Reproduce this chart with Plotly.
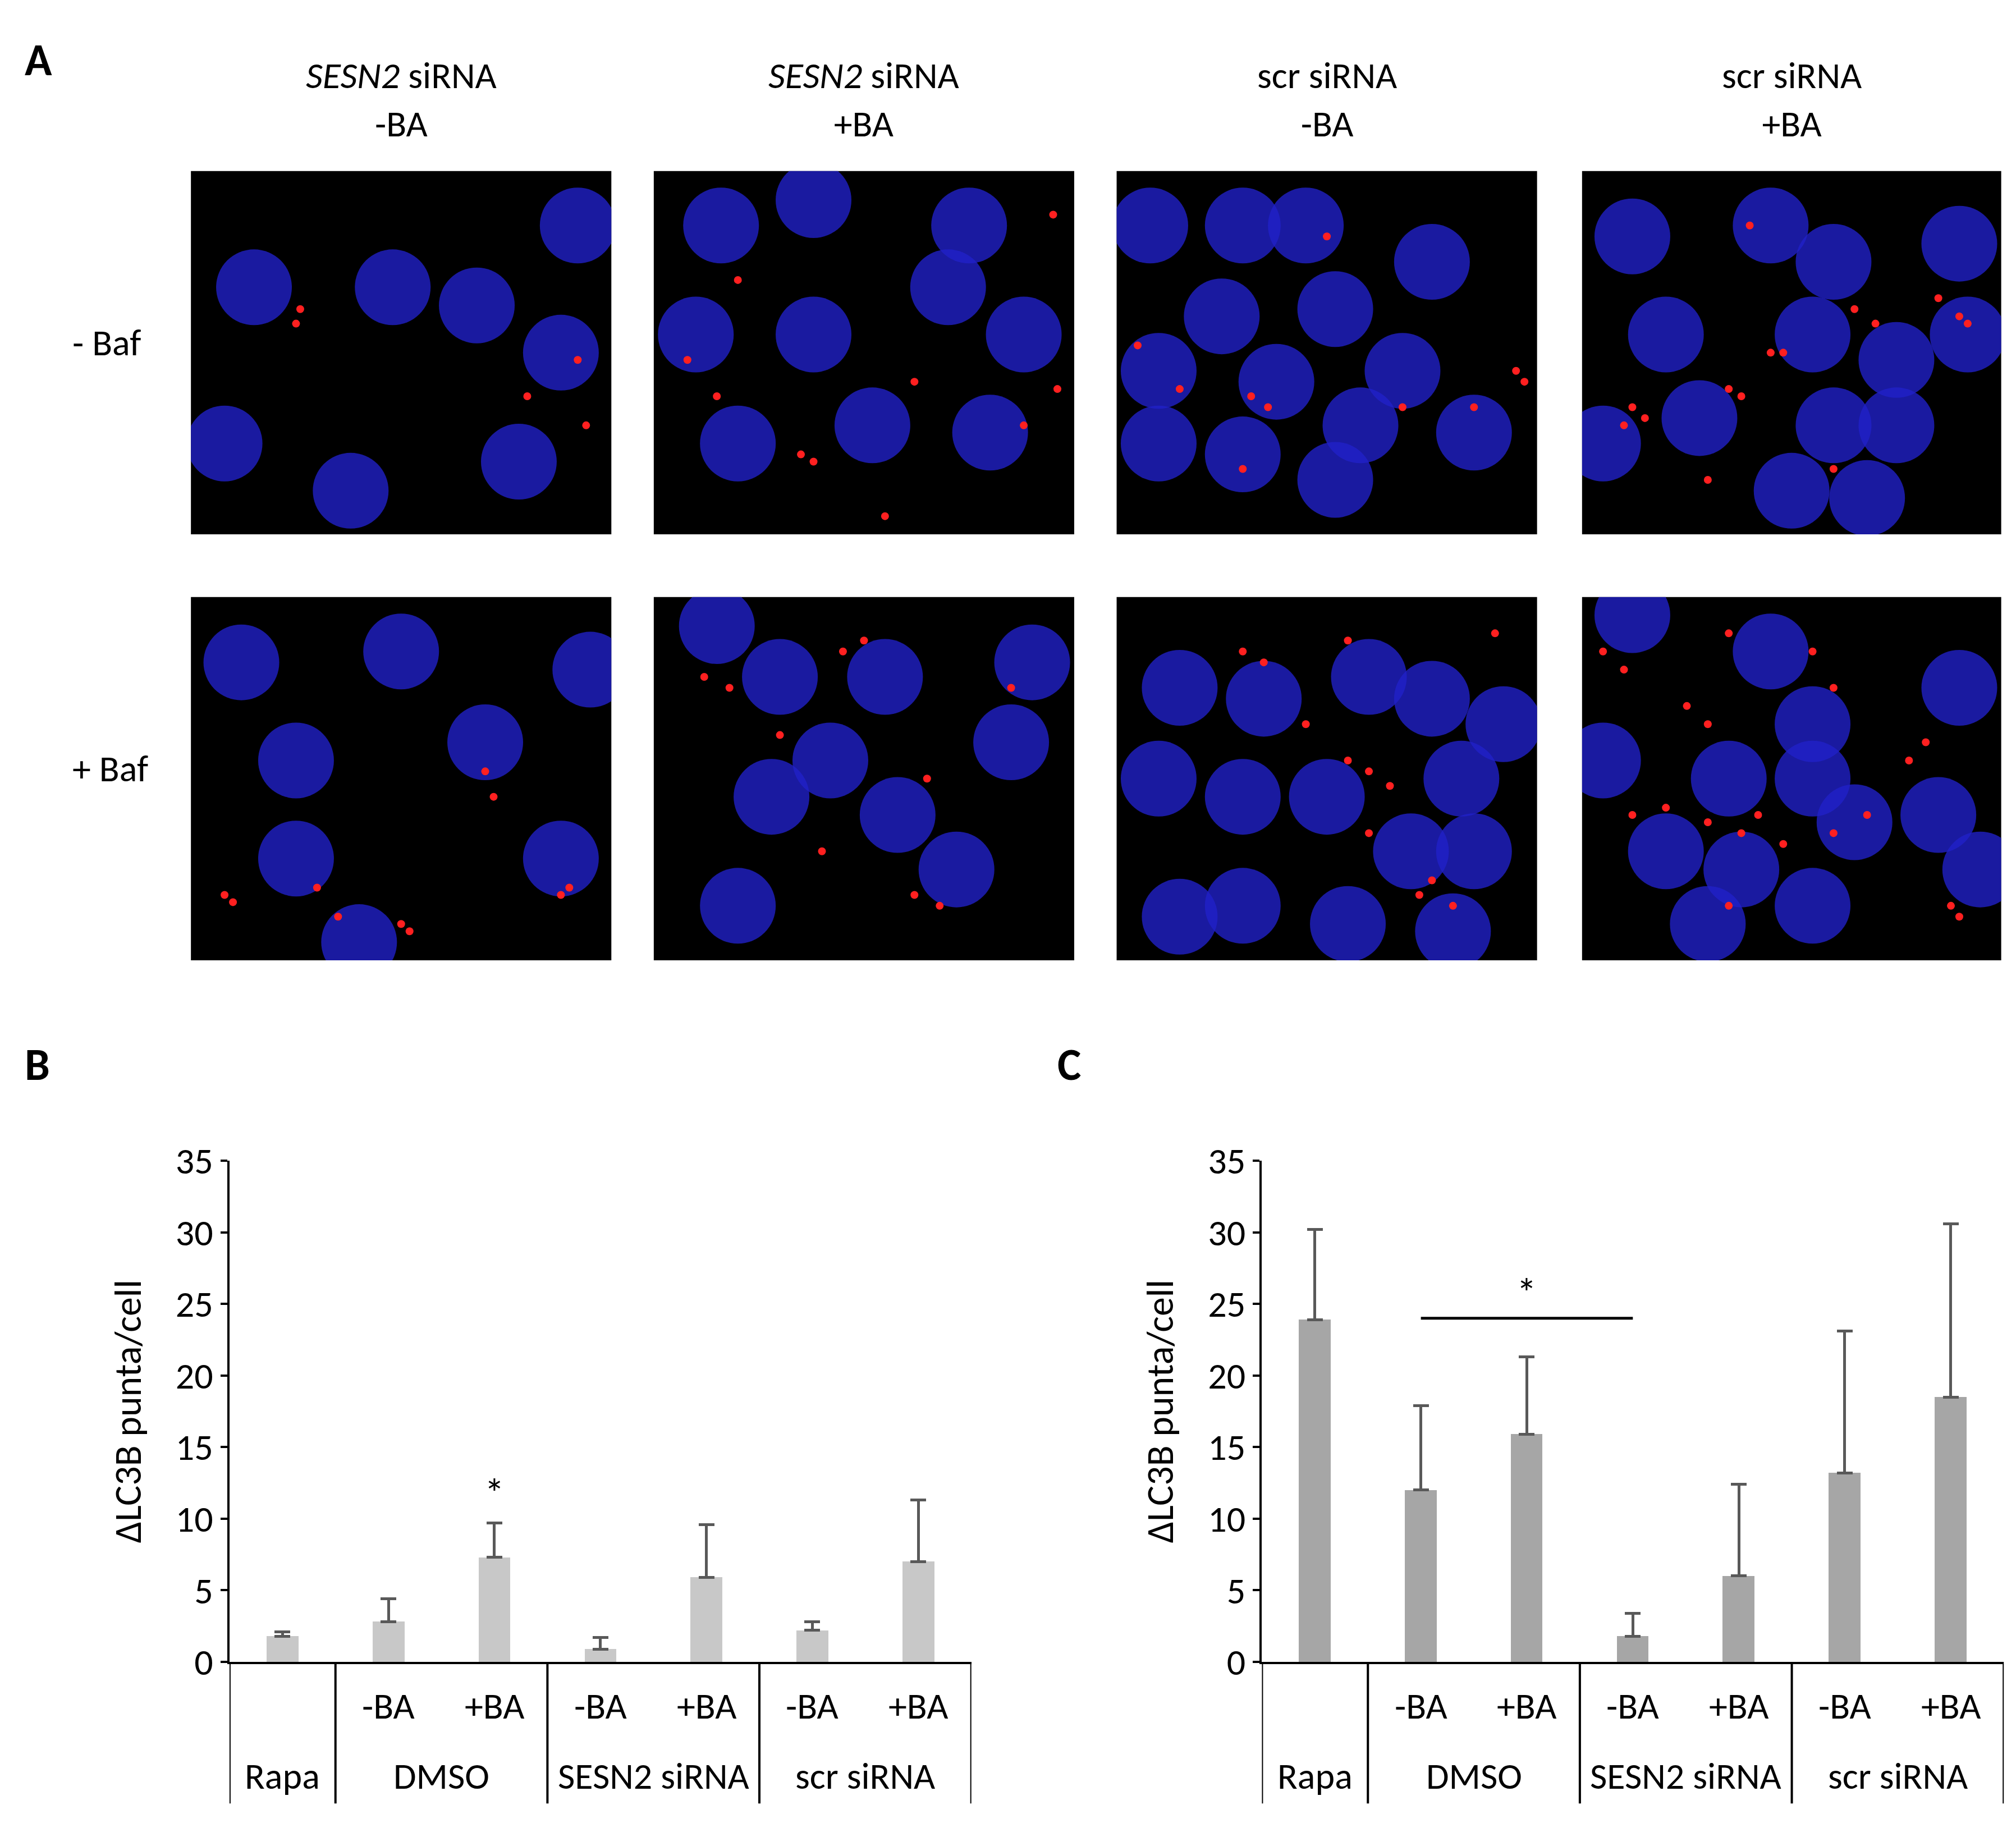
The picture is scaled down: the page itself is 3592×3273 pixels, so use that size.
import plotly.graph_objects as go

W, H = 3592, 3273
DW, DH = 1568.0, 1430.0
def fx(p): return p / DW
def fy(p): return 1 - p / DH

# ---------------- data ----------------
sub_labels = ["-BA", "+BA", "-BA", "+BA", "-BA", "+BA"]
group_labels = ["Rapa", "DMSO", "SESN2 siRNA", "scr siRNA"]
b_vals = [1.8, 2.8, 7.3, 0.9, 5.9, 2.2, 7.0]
b_err = [0.3, 1.6, 2.4, 0.8, 3.7, 0.6, 4.3]
c_vals = [23.9, 12.0, 15.9, 1.8, 6.0, 13.2, 18.5]
c_err = [6.3, 5.9, 5.4, 1.6, 6.4, 9.9, 12.1]
col_titles = ["<i>SESN2</i> siRNA<br>-BA", "<i>SESN2</i> siRNA<br>+BA",
              "scr siRNA<br>-BA", "scr siRNA<br>+BA"]
row_titles = ["- Baf", "+ Baf"]
# approximate nucleus centres (x, y in 0..1) per micrograph panel
nuclei = [
    [(0.15, 0.68), (0.48, 0.68), (0.68, 0.63), (0.88, 0.5), (0.92, 0.85), (0.08, 0.25), (0.38, 0.12), (0.78, 0.2)],
    [(0.16, 0.85), (0.38, 0.92), (0.75, 0.85), (0.1, 0.55), (0.38, 0.55), (0.7, 0.68), (0.88, 0.55), (0.2, 0.25), (0.52, 0.3), (0.8, 0.28)],
    [(0.08, 0.85), (0.3, 0.85), (0.45, 0.85), (0.75, 0.75), (0.25, 0.6), (0.52, 0.62), (0.68, 0.45), (0.1, 0.45), (0.38, 0.42), (0.58, 0.3), (0.85, 0.28), (0.3, 0.22), (0.1, 0.25), (0.52, 0.15)],
    [(0.12, 0.82), (0.45, 0.85), (0.6, 0.75), (0.9, 0.8), (0.2, 0.55), (0.55, 0.55), (0.75, 0.48), (0.92, 0.55), (0.28, 0.32), (0.6, 0.3), (0.75, 0.3), (0.5, 0.12), (0.68, 0.1), (0.05, 0.25)],
    [(0.12, 0.82), (0.5, 0.85), (0.95, 0.8), (0.25, 0.55), (0.7, 0.6), (0.25, 0.28), (0.88, 0.28), (0.4, 0.05)],
    [(0.15, 0.92), (0.3, 0.78), (0.55, 0.78), (0.9, 0.82), (0.85, 0.6), (0.28, 0.45), (0.42, 0.55), (0.58, 0.4), (0.2, 0.15), (0.72, 0.25)],
    [(0.15, 0.75), (0.35, 0.72), (0.6, 0.78), (0.75, 0.72), (0.92, 0.65), (0.1, 0.5), (0.3, 0.45), (0.5, 0.45), (0.82, 0.5), (0.7, 0.3), (0.85, 0.3), (0.15, 0.12), (0.3, 0.15), (0.55, 0.1), (0.8, 0.08)],
    [(0.12, 0.95), (0.45, 0.85), (0.55, 0.65), (0.9, 0.75), (0.05, 0.55), (0.35, 0.5), (0.55, 0.5), (0.65, 0.38), (0.85, 0.4), (0.2, 0.3), (0.38, 0.25), (0.55, 0.15), (0.95, 0.25), (0.3, 0.1)],
]
# approximate red puncta per panel
puncta = [
    [(0.26, 0.62), (0.92, 0.48), (0.8, 0.38), (0.94, 0.3), (0.25, 0.58)],
    [(0.08, 0.48), (0.15, 0.38), (0.35, 0.22), (0.38, 0.2), (0.62, 0.42), (0.95, 0.88), (0.96, 0.4), (0.88, 0.3), (0.55, 0.05), (0.2, 0.7)],
    [(0.05, 0.52), (0.15, 0.4), (0.32, 0.38), (0.36, 0.35), (0.5, 0.82), (0.95, 0.45), (0.97, 0.42), (0.85, 0.35), (0.68, 0.35), (0.3, 0.18)],
    [(0.12, 0.35), (0.15, 0.32), (0.1, 0.3), (0.35, 0.4), (0.38, 0.38), (0.45, 0.5), (0.48, 0.5), (0.9, 0.6), (0.92, 0.58), (0.85, 0.65), (0.65, 0.62), (0.7, 0.58), (0.4, 0.85), (0.3, 0.15), (0.6, 0.18)],
    [(0.08, 0.18), (0.1, 0.16), (0.35, 0.12), (0.5, 0.1), (0.52, 0.08), (0.88, 0.18), (0.9, 0.2), (0.3, 0.2), (0.7, 0.52), (0.72, 0.45)],
    [(0.12, 0.78), (0.18, 0.75), (0.5, 0.88), (0.45, 0.85), (0.3, 0.62), (0.85, 0.75), (0.62, 0.18), (0.68, 0.15), (0.65, 0.5), (0.4, 0.3)],
    [(0.3, 0.85), (0.35, 0.82), (0.55, 0.88), (0.55, 0.55), (0.6, 0.52), (0.65, 0.48), (0.45, 0.65), (0.75, 0.22), (0.8, 0.15), (0.6, 0.35), (0.72, 0.18), (0.9, 0.9)],
    [(0.05, 0.85), (0.1, 0.8), (0.25, 0.7), (0.3, 0.65), (0.35, 0.9), (0.55, 0.85), (0.6, 0.75), (0.12, 0.4), (0.2, 0.42), (0.3, 0.38), (0.38, 0.35), (0.42, 0.4), (0.48, 0.32), (0.6, 0.35), (0.68, 0.4), (0.78, 0.55), (0.82, 0.6), (0.88, 0.15), (0.9, 0.12), (0.35, 0.15)],
]

fig = go.Figure()
BLK = "black"
FONT = "Calibri, Liberation Sans, DejaVu Sans"
FS = 66

cols = [(145, 472), (505, 832), (865, 1192), (1227, 1553)]
rows = [(115, 405), (455, 745)]
annots, shapes = [], []
layout = {}
k = 0
for r, (y0, y1) in enumerate(rows):
    for c, (x0, x1) in enumerate(cols):
        k += 1
        xa, ya = f"xaxis{k+2}", f"yaxis{k+2}"
        layout[xa] = dict(domain=[fx(x0), fx(x1)], range=[0, 1], visible=False, anchor=f"y{k+2}")
        layout[ya] = dict(domain=[fy(y1), fy(y0)], range=[0, 1], visible=False, anchor=f"x{k+2}")
        nx, ny = zip(*nuclei[k-1])
        fig.add_trace(go.Scatter(x=nx, y=ny, mode="markers", xaxis=f"x{k+2}", yaxis=f"y{k+2}",
                                 marker=dict(size=135, color="#2020c8", opacity=0.8, line=dict(width=0)),
                                 hoverinfo="skip", showlegend=False))
        px_, py_ = zip(*puncta[k-1])
        fig.add_trace(go.Scatter(x=px_, y=py_, mode="markers", xaxis=f"x{k+2}", yaxis=f"y{k+2}",
                                 marker=dict(size=14, color="#ff2020", line=dict(width=0)),
                                 hoverinfo="skip", showlegend=False))
        shapes.append(dict(type="rect", xref="paper", yref="paper", x0=fx(x0), x1=fx(x1),
                           y0=fy(y1), y1=fy(y0), fillcolor="black", line=dict(width=0), layer="below"))

def ann(**kw):
    base = dict(showarrow=False, xanchor="center", yanchor="middle")
    base.update(kw)
    annots.append(base)

for c, (x0, x1) in enumerate(cols):
    ann(x=fx((x0+x1)/2), y=fy(58), xref="paper", yref="paper", text=col_titles[c],
        font=dict(size=FS, color=BLK, family=FONT), align="center")
for r, (y0, y1) in enumerate(rows):
    ann(x=fx(52), y=fy((y0+y1)/2 - 8), xref="paper", yref="paper", text=row_titles[r],
        xanchor="left", font=dict(size=FS, color=BLK, family=FONT))
for t, x, y in [("A", 15, 26), ("B", 15, 828), ("C", 818, 828)]:
    ann(x=fx(x), y=fy(y), xref="paper", yref="paper", text=f"<b>{t}</b>",
        xanchor="left", font=dict(size=80, color=BLK, family=FONT))

xs = [0.5, 1.5, 2.5, 3.5, 4.5, 5.5, 6.5]
charts = [("x", "y", (175, 752), b_vals, b_err, "#c8c8c8"), ("x2", "y2", (978, 1555), c_vals, c_err, "#a6a6a6")]
for i, (xr, yr, (x0, x1), vals, errs, color) in enumerate(charts):
    suf = "" if i == 0 else "2"
    fig.add_trace(go.Bar(x=xs, y=vals, width=0.3, marker=dict(color=color, line=dict(width=0)),
                         error_y=dict(type="data", array=errs, symmetric=False, color="#595959",
                                      thickness=5, width=14),
                         xaxis=xr, yaxis=yr, showlegend=False))
    layout["xaxis" + suf] = dict(domain=[fx(x0), fx(x1)], range=[0, 7], showticklabels=False, ticks="",
                                 showgrid=False, zeroline=False, showline=True, linecolor=BLK, linewidth=4,
                                 anchor=yr)
    layout["yaxis" + suf] = dict(domain=[fy(1305), fy(905)], range=[0, 35], dtick=5, showgrid=False,
                                 zeroline=False, showline=True, linecolor=BLK, linewidth=4, ticks="outside",
                                 ticklen=12, tickwidth=4, tickcolor=BLK, anchor=xr,
                                 tickfont=dict(size=FS, color=BLK, family=FONT),
                                 title=dict(text="ΔLC3B punta/cell", font=dict(size=68, color=BLK, family=FONT),
                                            standoff=40))
    for xv in [0, 1, 3, 5, 7]:
        shapes.append(dict(type="line", xref=xr, yref="paper", x0=xv, x1=xv, y0=fy(1305), y1=fy(1418),
                           line=dict(color=BLK, width=4)))
    for j, lab in enumerate(sub_labels):
        ann(x=1.5 + j, y=fy(1340), xref=xr, yref="paper", text=lab,
            font=dict(size=FS, color=BLK, family=FONT))
    for lab, xc in zip(group_labels, [0.5, 2, 4, 6]):
        ann(x=xc, y=fy(1396), xref=xr, yref="paper", text=lab,
            font=dict(size=FS, color=BLK, family=FONT))

ann(x=2.5, y=11.8, xref="x", yref="y", text="*", font=dict(size=72, color=BLK, family=FONT))
shapes.append(dict(type="line", xref="x2", yref="y2", x0=1.5, x1=3.5, y0=24, y1=24, line=dict(color=BLK, width=5)))
ann(x=2.5, y=25.8, xref="x2", yref="y2", text="*", font=dict(size=72, color=BLK, family=FONT))

fig.update_layout(width=W, height=H, margin=dict(l=0, r=0, t=0, b=0), paper_bgcolor="white",
                  plot_bgcolor="rgba(0,0,0,0)", annotations=annots, shapes=shapes, bargap=0, **layout)
fig.write_html("out.html")
